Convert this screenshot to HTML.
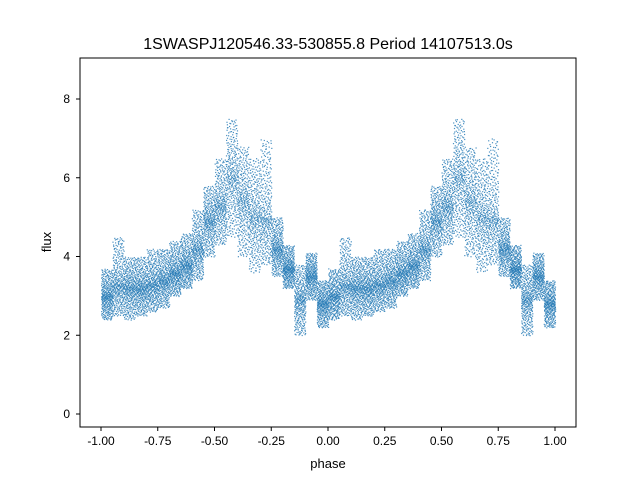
<!DOCTYPE html>
<html><head><meta charset="utf-8"><style>
body{margin:0;background:#fff}
svg{display:block;font-family:"Liberation Sans","DejaVu Sans",sans-serif}
</style></head><body>
<svg id="chart" width="640" height="480" viewBox="0 0 640 480">
<rect width="640" height="480" fill="#fff"/>
<text x="328" y="49" font-size="16" text-anchor="middle">1SWASPJ120546.33-530855.8 Period 14107513.0s</text>
<g id="pts"></g>
<rect x="80" y="58" width="496" height="369" fill="none" stroke="#000" stroke-width="1"/>
<g id="axes"></g>
<text x="328" y="468" font-size="13" text-anchor="middle">phase</text>
<text transform="translate(51,242) rotate(-90)" font-size="13" text-anchor="middle">flux</text>
</svg>
<script>
// phase bins (start of 0.05-wide bin, in [-1,0]; repeated for phase+1)
const binStarts=[-1.0,-0.95,-0.9,-0.85,-0.8,-0.75,-0.7,-0.65,-0.6,-0.55,-0.5,-0.45,-0.4,-0.35,-0.3,-0.25,-0.2,-0.15,-0.1,-0.05];
const binCenter=[3.0,3.3,3.2,3.2,3.3,3.4,3.6,3.8,4.2,4.9,5.3,6.0,5.4,5.0,5.0,4.2,3.7,2.9,3.5,2.8];
const binLow=[2.4,2.5,2.4,2.5,2.6,2.7,3.0,3.2,3.4,4.0,4.3,4.5,4.0,3.6,3.8,3.5,3.2,2.0,2.9,2.2];
const binHigh=[3.7,4.5,4.0,4.0,4.2,4.2,4.4,4.6,5.2,5.8,6.5,7.5,6.8,6.5,7.0,5.0,4.3,3.8,4.1,3.4];
const xTicks=[-1.00,-0.75,-0.50,-0.25,0.00,0.25,0.50,0.75,1.00];
const yTicks=[0,2,4,6,8];
const NS="http://www.w3.org/2000/svg";
const xs=v=>101+(v+1)*227;
const ys=v=>414-v*39.375;
function halton(i,b){let f=1,r=0;while(i>0){f/=b;r+=f*(i%b);i=Math.floor(i/b);}return r;}
const g=document.getElementById('pts');
let idx=1;
for(let rep=0;rep<2;rep++){
 for(let b=0;b<binStarts.length;b++){
  for(let k=0;k<320;k++){
   const u=halton(idx,2),w=halton(idx,3);idx++;
   const ph=binStarts[b]+rep+u*0.05;
   let t=(w-0.5)*2; t=t*Math.abs(t)*0.5+t*0.5;
   const v=t<0?binCenter[b]+t*(binCenter[b]-binLow[b]):binCenter[b]+t*(binHigh[b]-binCenter[b]);
   const r=document.createElementNS(NS,'rect');
   
   
   r.setAttribute('x',xs(ph).toFixed(1));r.setAttribute('y',ys(v).toFixed(1));
   r.setAttribute('width','1.2');r.setAttribute('height','1.2');
   r.setAttribute('fill','#1f77b4');r.setAttribute('opacity','0.8');
   g.appendChild(r);
  }
 }
}
const ax=document.getElementById('axes');
xTicks.forEach(t=>{
 const l=document.createElementNS(NS,'line');
 
 
 l.setAttribute('x1',xs(t));l.setAttribute('x2',xs(t));l.setAttribute('y1',427);l.setAttribute('y2',431);l.setAttribute('stroke','#000');
 ax.appendChild(l);
 const s=document.createElementNS(NS,'text');
 
 
 s.setAttribute('x',xs(t));s.setAttribute('y',445);s.setAttribute('font-size','12');s.setAttribute('text-anchor','middle');
 s.textContent=t.toFixed(2);ax.appendChild(s);
});
yTicks.forEach(t=>{
 const l=document.createElementNS(NS,'line');
 
 
 l.setAttribute('x1',76);l.setAttribute('x2',80);l.setAttribute('y1',ys(t));l.setAttribute('y2',ys(t));l.setAttribute('stroke','#000');
 ax.appendChild(l);
 const s=document.createElementNS(NS,'text');
 
 
 s.setAttribute('x',70);s.setAttribute('y',ys(t)+4);s.setAttribute('font-size','12');s.setAttribute('text-anchor','end');
 s.textContent=String(t);ax.appendChild(s);
});
</script>
</body></html>
